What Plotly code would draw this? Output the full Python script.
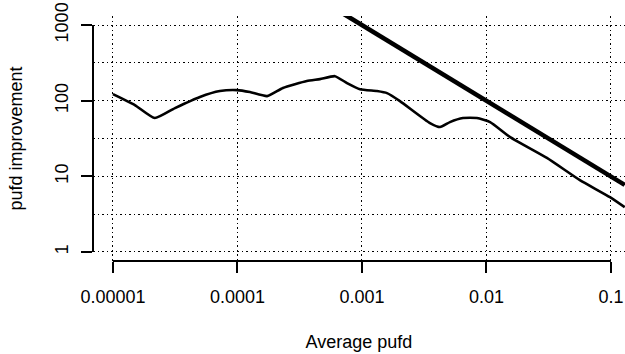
import numpy as np
import plotly.graph_objects as go

# Thin curve: observed pufd improvement vs average pufd
curve_x = [1.0e-5, 1.50e-5, 2.17e-5, 3.15e-5, 5.0e-5, 7.23e-5, 9.9e-5, 1.26e-4, 1.73e-4,
           2.32e-4, 3.61e-4, 4.60e-4, 6.07e-4, 7.59e-4, 9.64e-4, 1.32e-3, 1.59e-3, 2.02e-3,
           3.52e-3, 4.24e-3, 5.09e-3, 6.48e-3, 8.39e-3, 1.07e-2, 1.55e-2, 3.06e-2, 5.63e-2,
           9.82e-2, 0.129]
curve_y = [122, 87.5, 58.9, 79.8, 112, 134, 138, 130, 115,
           147, 182, 193, 211, 171, 142, 134, 126, 98.8,
           50.6, 44.8, 52.1, 58.9, 58.9, 52.1, 33.0, 17.5, 8.9,
           5.3, 3.9]

# Thick line: upper bound
bound_x = [0.0007, 0.129]
bound_y = [1430, 7.7]

x_ticks = [1e-5, 1e-4, 1e-3, 1e-2, 1e-1]
x_labels = ["0.00001", "0.0001", "0.001", "0.01", "0.1"]
y_ticks = [1, 10, 100, 1000]
y_labels = ["1", "10", "100", "1000"]
y_minor = [10 ** 0.5, 10 ** 1.5, 10 ** 2.5]

FONT = "Liberation Sans, Arial, sans-serif"
DOT = "1.5px,3px"

fig = go.Figure()
fig.add_trace(go.Scatter(x=curve_x, y=curve_y, mode="lines",
                         line=dict(color="black", width=2.6, shape="spline", smoothing=0.5),
                         showlegend=False))
fig.add_trace(go.Scatter(x=bound_x, y=bound_y, mode="lines",
                         line=dict(color="black", width=4.6), showlegend=False))

# R-style axis lines spanning only the tick range
shapes = [
    dict(type="line", xref="x", yref="paper", x0=x_ticks[0], x1=x_ticks[-1], y0=0, y1=0,
         line=dict(color="black", width=2), layer="above"),
    dict(type="line", xref="paper", yref="y", x0=0, x1=0, y0=y_ticks[0], y1=y_ticks[-1],
         line=dict(color="black", width=2), layer="above"),
]

fig.update_layout(
    width=625, height=354,
    margin=dict(l=93, r=0, t=16, b=93),
    paper_bgcolor="white", plot_bgcolor="white",
    font=dict(family=FONT, size=18, color="black"),
    shapes=shapes,
    xaxis=dict(
        type="log", range=[-5.16, -0.887],
        tickvals=x_ticks, ticktext=x_labels,
        ticks="outside", ticklen=11, tickwidth=1.5, tickcolor="black",
        showline=False, zeroline=False,
        showgrid=True, gridcolor="black", gridwidth=1, griddash=DOT,
        tickfont=dict(size=18),
        ticklabelstandoff=8,
        title=dict(text="Average pufd", font=dict(size=18), standoff=29),
    ),
    yaxis=dict(
        type="log", range=[-0.12, 3.12],
        tickvals=y_ticks, ticktext=y_labels, tickangle=-90,
        ticks="outside", ticklen=11, tickwidth=1.5, tickcolor="black",
        showline=False, zeroline=False,
        showgrid=True, gridcolor="black", gridwidth=1, griddash=DOT,
        minor=dict(tickvals=y_minor, showgrid=True, gridcolor="black",
                   gridwidth=1, griddash=DOT, ticklen=0),
        tickfont=dict(size=18),
        ticklabelstandoff=6,
        title=dict(text="pufd improvement", font=dict(size=18), standoff=24),
    ),
)

fig.write_html("out.html")
